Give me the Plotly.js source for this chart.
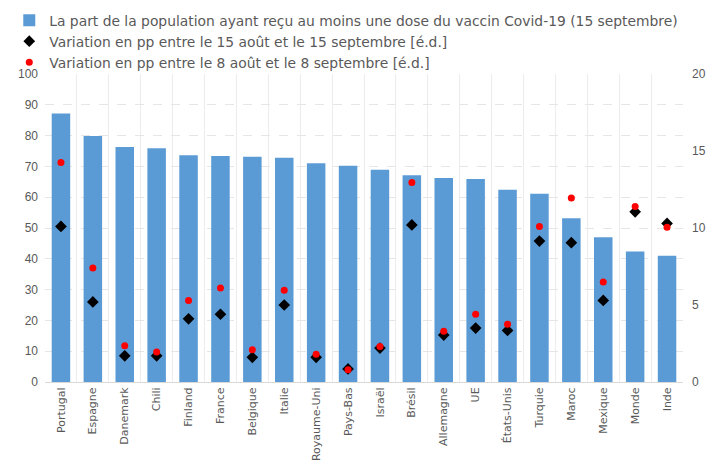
<!DOCTYPE html>
<html><head><meta charset="utf-8">
<script src="https://cdn.plot.ly/plotly-3.0.1.min.js"></script>
<style>body{margin:0;background:#fff}#c{width:720px;height:467px}</style>
</head><body><div id="c"></div>
<script>
const categories = ["Portugal","Espagne","Danemark","Chili","Finland","France","Belgique","Italie","Royaume-Uni","Pays-Bas","Israël","Brésil","Allemagne","UE","États-Unis","Turquie","Maroc","Mexique","Monde","Inde"];
const partUneDose = [87.2,79.9,76.3,75.9,73.6,73.4,73.1,72.8,71.0,70.2,68.9,67.1,66.2,65.9,62.4,61.1,53.2,47.0,42.4,41.0];
const var15 = [10.1,5.2,1.7,1.7,4.1,4.4,1.6,5.0,1.6,0.85,2.2,10.2,3.05,3.5,3.35,9.15,9.05,5.3,11.05,10.3];
const var8 = [14.25,7.4,2.35,1.95,5.3,6.1,2.1,5.95,1.8,0.8,2.3,12.95,3.3,4.4,3.75,10.1,11.95,6.5,11.4,10.05];
const names = ["La part de la population ayant reçu au moins une dose du vaccin Covid-19 (15 septembre)","Variation en pp entre le 15 août et le 15 septembre [é.d.]","Variation en pp entre le 8 août et le 8 septembre [é.d.]"];

const txt = "#595959";
const data = [
  {type:"bar", x:categories, y:partUneDose, name:names[0], marker:{color:"#5b9bd5"}, yaxis:"y"},
  {type:"scatter", mode:"markers", x:categories, y:var15, name:names[1], yaxis:"y2", marker:{symbol:"diamond", size:9, color:"#000"}},
  {type:"scatter", mode:"markers", x:categories, y:var8, name:names[2], yaxis:"y2", marker:{symbol:"circle", size:7, color:"#ff0000"}}
];
const layout = {
  width:720, height:467,
  margin:{l:45, r:37, t:74, b:85, autoexpand:false},
  paper_bgcolor:"#fff", plot_bgcolor:"#fff",
  font:{family:"Liberation Sans, sans-serif", color:txt, size:12},
  bargap:0.42,
  showlegend:true,
  legend:{x:-0.056, y:1.225, xanchor:"left", yanchor:"top", orientation:"v",
    font:{size:13.85, color:txt, family:"DejaVu Sans, sans-serif"}, itemwidth:30, tracegroupgap:0, bgcolor:"rgba(0,0,0,0)"},
  xaxis:{type:"category", range:[-0.5,19.5], tickangle:-90, showgrid:true, gridcolor:"#ececec", tickson:"boundaries", ticks:"", showline:true, linecolor:"#d9d9d9",
    tickfont:{size:11, color:txt, family:"DejaVu Sans, sans-serif"}},
  yaxis:{range:[0,100], dtick:10, showgrid:true, gridcolor:"#e6e6e6", griddash:"dash", zeroline:false, ticks:"", ticklabelstandoff:6, tickfont:{size:12,color:txt}},
  yaxis2:{range:[0,20], dtick:5, overlaying:"y", side:"right", showgrid:false, zeroline:false, ticks:"", ticklabelstandoff:8, tickfont:{size:12,color:txt}}
};
Plotly.newPlot("c", data, layout, {displayModeBar:false, staticPlot:true});
</script></body></html>
